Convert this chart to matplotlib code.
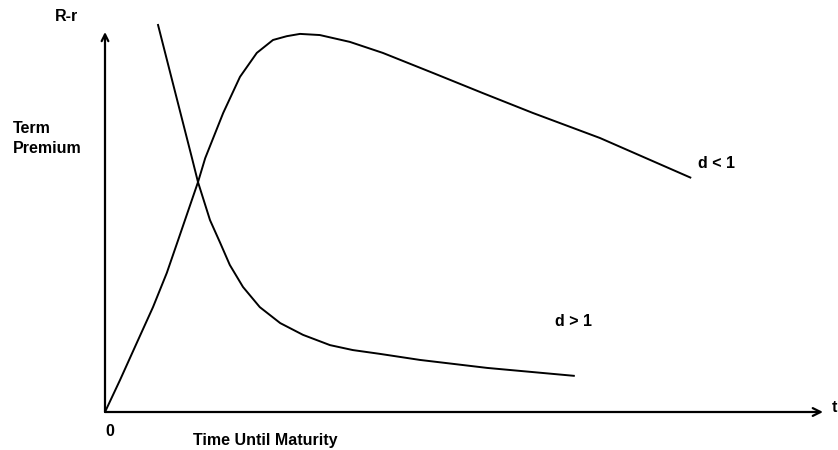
import matplotlib
matplotlib.use("Agg")
import matplotlib.pyplot as plt

plt.rcParams["font.family"] = ["Liberation Sans", "DejaVu Sans"]

# term premium curves (t = time to maturity, arbitrary units)
t_low = [0.0, 0.25, 0.53, 0.80, 1.03, 1.22, 1.55, 1.67, 1.97, 2.25, 2.53,
         2.80, 3.03, 3.25, 3.58, 4.08, 4.63, 5.47, 6.30, 7.13, 8.25, 9.77]
prem_low = [0.0, 0.84, 1.82, 2.76, 3.66, 4.53, 6.05, 6.68, 7.87, 8.82, 9.45,
            9.79, 9.89, 9.95, 9.92, 9.74, 9.45, 8.92, 8.39, 7.87, 7.21, 6.16]

t_high = [0.88, 1.13, 1.45, 1.55, 1.75, 1.92, 2.08, 2.30, 2.58, 2.92, 3.30, 3.75,
          4.13, 4.58, 5.25, 6.37, 7.83]
prem_high = [10.21, 8.66, 6.68, 6.05, 5.05, 4.45, 3.87, 3.29, 2.76, 2.34, 2.03, 1.76,
             1.63, 1.53, 1.37, 1.16, 0.95]

labels = {"low": "d < 1", "high": "d > 1"}

W, H = 838, 450
fig = plt.figure(figsize=(W / 100, H / 100), dpi=100)
ax = fig.add_axes([0, 0, 1, 1])

# pixel layout: origin at (105, 412), 60 px per t unit, 38 px per premium unit
x0, y0, sx, sy = 105, 412, 60.0, 38.0
ax.set_xlim(-x0 / sx, (W - x0) / sx)
ax.set_ylim(-(H - y0) / sy, y0 / sy)
ax.axis("off")


def px(x, y):
    return (x - x0) / sx, (y0 - y) / sy


# axes with arrows
ax.annotate("", xy=px(823, 412), xytext=(0, 0),
            arrowprops=dict(arrowstyle="->", lw=1.6, color="black",
                            shrinkA=0, shrinkB=0, mutation_scale=14))
ax.annotate("", xy=px(105, 32), xytext=(0, 0),
            arrowprops=dict(arrowstyle="->", lw=1.6, color="black",
                            shrinkA=0, shrinkB=0, mutation_scale=12))

ax.plot(t_low, prem_low, color="black", lw=1.4, solid_capstyle="butt",
        solid_joinstyle="round")
ax.plot(t_high, prem_high, color="black", lw=1.4, solid_capstyle="butt",
        solid_joinstyle="round")

fs = 11.5
bold = dict(fontsize=fs, fontweight="bold", color="black")
ax.text(*px(55, 16), "R-r", ha="left", va="center", **bold)
ax.text(*px(13, 128), "Term", ha="left", va="center", **bold)
ax.text(*px(13, 148), "Premium", ha="left", va="center", **bold)
ax.text(*px(110, 432), "0", ha="center", va="center", **bold)
ax.text(*px(193, 441), "Time Until Maturity", ha="left", va="center", **bold)
ax.text(*px(832, 408), "t", ha="left", va="center", **bold)
ax.text(*px(698, 163), labels["low"], ha="left", va="center", **bold)
ax.text(*px(555, 322), labels["high"], ha="left", va="center", **bold)

fig.savefig("out.png", dpi=100)
